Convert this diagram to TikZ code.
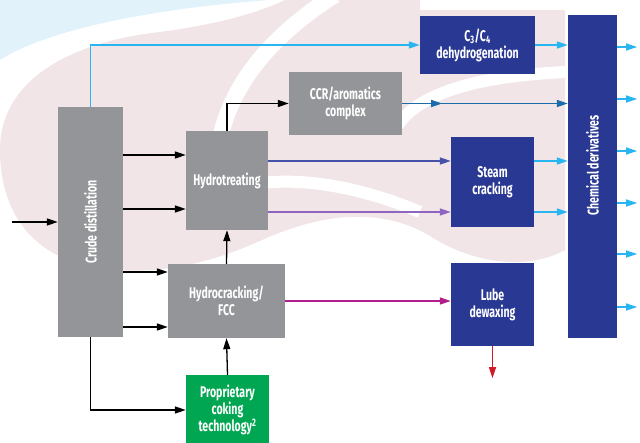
\documentclass[tikz,border=0pt]{standalone}
\usepackage{fontspec}
\setmainfont{Fira Sans}[FakeStretch=0.68]
\usetikzlibrary{arrows.meta}

\definecolor{unitgrey}{RGB}{147,149,152}
\definecolor{unitblue}{RGB}{41,56,146}
\definecolor{unitgreen}{RGB}{0,166,81}
\definecolor{cyanline}{RGB}{41,182,240}
\definecolor{steelline}{RGB}{27,108,168}
\definecolor{indigoline}{RGB}{70,82,170}
\definecolor{violetline}{RGB}{142,102,192}
\definecolor{magentaline}{RGB}{178,30,140}
\definecolor{redline}{RGB}{210,25,40}
\definecolor{blushbg}{RGB}{241,229,231}
\definecolor{skybg}{RGB}{226,242,250}

\tikzset{
  unit/.style={fill=unitgrey, text=white, align=center, inner sep=0pt,
    font=\fontsize{15.5}{17}\selectfont\bfseries},
  blueunit/.style={unit, fill=unitblue},
  greenunit/.style={unit, fill=unitgreen},
  unittext/.style={text=white, align=center, inner sep=0pt,
    font=\fontsize{15.5}{17}\selectfont\bfseries},
  flow/.style={line width=1.3pt, -{Triangle[length=11pt,width=7pt]}},
  outflow/.style={flow, cyanline}
}

\begin{document}
\begin{tikzpicture}[x=1pt, y=-1pt]
  \useasboundingbox (0,0) rectangle (640,443);

  % background swirls
  \begin{scope}
    \clip (0,0) rectangle (640,443);
    \fill[skybg] (0,0) -- (270,0) .. controls (160,8) and (50,28) .. (0,60) -- cycle;
    \fill[blushbg] (0,150) .. controls (0,80) and (70,42) .. (160,32)
      .. controls (220,24) and (260,12) .. (285,0) -- (565,0) -- (565,250)
      .. controls (525,272) and (470,262) .. (430,236)
      .. controls (380,206) and (320,214) .. (262,240)
      .. controls (205,266) and (150,276) .. (100,268)
      .. controls (40,260) and (0,220) .. (0,150) -- cycle;
    \draw[white, line width=16pt] (218,150) .. controls (228,80) and (280,30) .. (335,-5);
    \draw[white, line width=12pt] (215,197) .. controls (260,172) and (340,178) .. (420,212);
    \draw[white, line width=12pt] (398,125) .. controls (420,92) and (480,76) .. (566,72);
    \draw[white, line width=30pt] (420,-5) -- (640,-5);
  \end{scope}

  % process units
  \node[unit, minimum width=65pt, minimum height=230pt] (crude) at (90.5,222) {};
  \node[unittext, rotate=90] (crudetext) at (crude) {Crude distillation};
  \node[unit, minimum width=82pt, minimum height=99pt] (ht) at (227,180.5) {Hydrotreating};
  \node[unit, minimum width=117pt, minimum height=74pt] (hc) at (226.5,301) {Hydrocracking/\\FCC};
  \node[greenunit, minimum width=83pt, minimum height=70pt] (coke) at (227.5,410)
    {Proprietary\\coking\\technology\textsuperscript{2}};
  \node[unit, minimum width=113pt, minimum height=63pt] (ccr) at (345.5,103.5)
    {CCR/aromatics\\complex};
  \node[blueunit, minimum width=115pt, minimum height=58pt] (c34) at (477.5,45)
    {C\textsubscript{3}/C\textsubscript{4}\\dehydrogenation};
  \node[blueunit, minimum width=83pt, minimum height=90pt] (steam) at (492.5,182)
    {Steam\\cracking};
  \node[blueunit, minimum width=83pt, minimum height=83pt] (lube) at (492.5,304.5)
    {Lube\\dewaxing};
  \node[blueunit, minimum width=49pt, minimum height=323pt] (chem) at (592.5,176.5) {};
  \node[unittext, rotate=90] (chemtext) at ([yshift=11pt]chem.center) {Chemical derivatives};

  % feed and crude cuts
  \coordinate (feed) at (12,222);
  \draw[flow] (feed) -- (crude.west);
  \draw[flow] (crude.east |- 0,155) -- (ht.west |- 0,155);
  \draw[flow] (crude.east |- 0,209) -- (ht.west |- 0,209);
  \draw[flow] (crude.east |- 0,272) -- (hc.west |- 0,272);
  \draw[flow] (crude.east |- 0,327) -- (hc.west |- 0,327);
  \draw[flow] (crude.south) |- (coke.west);
  \draw[flow, cyanline] (crude.north) |- (c34.west);

  % upgrading
  \draw[flow] (coke.north) -- (hc.south);
  \draw[flow] (hc.north) -- (ht.south);
  \draw[flow] (ht.north) |- (ccr.west);
  \draw[flow, indigoline] (ht.east |- 0,161) -- (steam.west |- 0,161);
  \draw[flow, violetline] (ht.east |- 0,212) -- (steam.west |- 0,212);
  \draw[flow, magentaline] (hc.east) -- (lube.west |- hc.east);
  \coordinate (lubeout) at ([yshift=-32pt]lube.south);
  \draw[flow, redline] (lube.south) -- (lubeout);

  % to chemical derivatives
  \draw[outflow] (c34.east) -- (chem.west |- c34.east);
  \draw[flow, steelline] (ccr.east) -- ++(40,0);
  \draw[flow, steelline] (ccr.east) -- (chem.west |- ccr.east);
  \draw[outflow] (steam.east |- 0,161) -- (chem.west |- 0,161);
  \draw[outflow] (steam.east |- 0,212) -- (chem.west |- 0,212);
  \foreach \y in {47,99,151,203,254,307}
    \draw[outflow] (chem.east |- 0,\y) -- ++(20,0);
\end{tikzpicture}
\end{document}
